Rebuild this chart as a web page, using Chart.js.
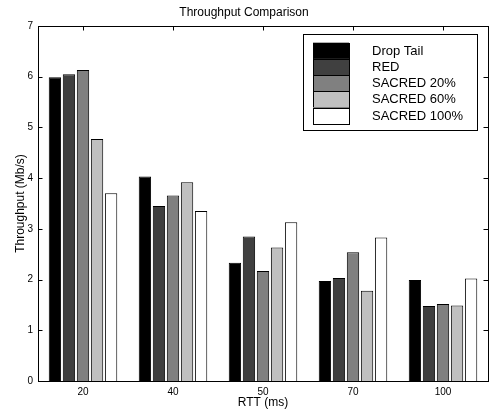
<!DOCTYPE html>
<html>
<head>
<meta charset="utf-8">
<script src="https://cdn.jsdelivr.net/npm/chart.js@4/dist/chart.umd.min.js"></script>
<style>
    html, body { margin: 0; padding: 0; background: #fff; }
    #wrap { width: 491px; height: 410px; }
</style>
</head>
<body>
<div id="wrap"><canvas id="myChart" width="491" height="410"></canvas></div>
<script>
// RTT categories and throughput (Mb/s) per queue scheme
var rtts = ['20', '40', '50', '70', '100'];
var dropTail = [5.99, 4.03, 2.33, 1.97, 1.99];
var red = [6.05, 3.45, 2.85, 2.03, 1.48];
var sacred20 = [6.13, 3.66, 2.17, 2.54, 1.52];
var sacred60 = [4.77, 3.92, 2.63, 1.78, 1.49];
var sacred100 = [3.70, 3.35, 3.13, 2.83, 2.02];
var seriesNames = ['Drop Tail', 'RED', 'SACRED 20%', 'SACRED 60%', 'SACRED 100%'];
var seriesColors = ['#000000', '#404040', '#808080', '#c0c0c0', '#ffffff'];
var yTicks = [0, 1, 2, 3, 4, 5, 6, 7];

var font = "'Liberation Sans', Arial, Helvetica, sans-serif";

// matlab style: box round the axes and ticks pointing inwards
var boxTicks = {
    id: 'boxTicks',
    beforeDatasetsDraw: function(chart) {
        var ctx = chart.ctx;
        var a = chart.chartArea;
        var len = 4.5;
        ctx.save();
        ctx.strokeStyle = '#000';
        ctx.lineWidth = 1;
        ctx.beginPath();
        chart.scales.y.ticks.forEach(function(t, i) {
            var py = Math.round(chart.scales.y.getPixelForTick(i)) + 0.5;
            ctx.moveTo(a.left, py); ctx.lineTo(a.left + len, py);
            ctx.moveTo(a.right, py); ctx.lineTo(a.right - len, py);
        });
        chart.scales.x.ticks.forEach(function(t, i) {
            var px = Math.round(chart.scales.x.getPixelForTick(i)) + 0.5;
            ctx.moveTo(px, a.bottom); ctx.lineTo(px, a.bottom - len);
            ctx.moveTo(px, a.top); ctx.lineTo(px, a.top + len);
        });
        ctx.stroke();
        ctx.restore();
    },
    afterDatasetsDraw: function(chart) {
        var ctx = chart.ctx;
        var a = chart.chartArea;
        ctx.save();
        ctx.strokeStyle = '#000';
        ctx.lineWidth = 1;
        ctx.strokeRect(Math.round(a.left) + 0.5, Math.round(a.top) + 0.5,
            Math.round(a.right - a.left), Math.round(a.bottom - a.top));
        ctx.restore();
    }
};

// legend box in the upper right corner of the axes
var boxLegend = {
    id: 'boxLegend',
    afterDraw: function(chart) {
        var ctx = chart.ctx;
        var a = chart.chartArea;
        var x0 = a.right - 185, y0 = a.top + 8;
        var w = 174, h = 96;
        var rowH = 16.2;
        ctx.save();
        ctx.fillStyle = '#fff';
        ctx.fillRect(x0, y0, w, h);
        ctx.strokeStyle = '#000';
        ctx.lineWidth = 1;
        ctx.strokeRect(Math.round(x0) + 0.5, Math.round(y0) + 0.5, w, h);
        ctx.font = '13px ' + font;
        ctx.textBaseline = 'middle';
        chart.data.datasets.forEach(function(ds, i) {
            var sy = y0 + 8.7 + i * rowH;
            ctx.fillStyle = ds.backgroundColor;
            ctx.fillRect(x0 + 10, sy, 36, rowH);
            ctx.strokeStyle = '#000';
            ctx.strokeRect(Math.round(x0 + 10) + 0.5, Math.round(sy) + 0.5, 36, Math.round(rowH));
            ctx.fillStyle = '#000';
            ctx.fillText(ds.label, x0 + 69, sy + rowH / 2 + 0.5);
        });
        ctx.restore();
    }
};

var allValues = [dropTail, red, sacred20, sacred60, sacred100];

var ctx = document.getElementById('myChart');
var myChart = new Chart(ctx, {
    type: 'bar',
    data: {
        labels: rtts,
        datasets: allValues.map(function(vals, i) {
            return {
                label: seriesNames[i],
                data: vals,
                backgroundColor: seriesColors[i],
                borderColor: '#000',
                borderWidth: 1,
                categoryPercentage: 0.78,
                barPercentage: 0.88
            };
        })
    },
    options: {
        responsive: false,
        animation: false,
        devicePixelRatio: 1,
        layout: { padding: { left: 0, right: 3, top: 0, bottom: 0 } },
        plugins: {
            legend: { display: false },
            tooltip: { enabled: false },
            title: {
                display: true,
                text: 'Throughput Comparison',
                color: '#000',
                font: { family: font, size: 12, weight: 'normal' },
                padding: { top: 5, bottom: 6.6 }
            }
        },
        scales: {
            x: {
                grid: { display: false, drawTicks: false },
                border: { display: false },
                ticks: { color: '#000', font: { family: font, size: 10 }, padding: 5 },
                title: {
                    display: true,
                    text: 'RTT (ms)',
                    color: '#000',
                    font: { family: font, size: 12 },
                    padding: { top: 1, bottom: 0 }
                },
                afterFit: function(scale) { scale.height = 29; }
            },
            y: {
                min: 0,
                max: 7,
                grid: { display: false, drawTicks: false },
                border: { display: false },
                afterBuildTicks: function(scale) {
                    scale.ticks = yTicks.map(function(v) { return { value: v }; });
                },
                ticks: { color: '#000', font: { family: font, size: 10 }, padding: 5 },
                title: {
                    display: true,
                    text: 'Throughput (Mb/s)',
                    color: '#000',
                    font: { family: font, size: 12 },
                    padding: { top: 13, bottom: 2 }
                },
                afterFit: function(scale) { scale.width = 38; }
            }
        }
    },
    plugins: [boxTicks, boxLegend]
});
</script>
</body>
</html>
